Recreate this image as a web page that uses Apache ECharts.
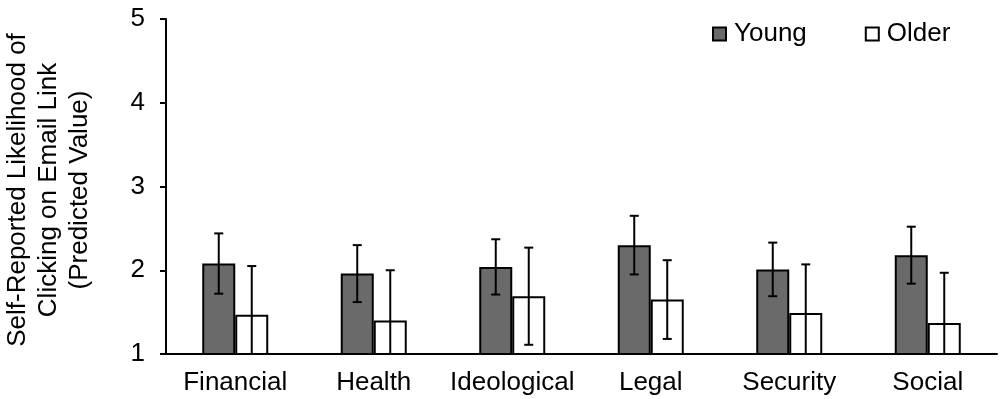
<!DOCTYPE html>
<html>
<head>
<meta charset="utf-8">
<script src="https://cdn.jsdelivr.net/npm/echarts@6/dist/echarts.min.js"></script>
<style>
  html, body { margin: 0; padding: 0; background: #fff; }
  #chart { width: 1000px; height: 399px; }
</style>
</head>
<body>
<div id="chart"></div>
<script>
// Message categories
const categories = ['Financial', 'Health', 'Ideological', 'Legal', 'Security', 'Social'];
// Predicted values per age group
const young = [2.08, 1.96, 2.04, 2.30, 2.01, 2.18];
const older = [1.47, 1.40, 1.69, 1.65, 1.49, 1.37];
// Half-widths of the error bars
const youngErr = [0.36, 0.34, 0.33, 0.35, 0.32, 0.34];
const olderErr = [0.58, 0.60, 0.58, 0.47, 0.58, 0.60];
// Value-axis ticks
const yTicks = [1, 2, 3, 4, 5];

const FONT = "'Liberation Sans', Arial, sans-serif";
const BAR_W = 33;
const Y_MIN = yTicks[0], Y_MAX = yTicks[yTicks.length - 1];

function errorSeries(name, values, errs, offset) {
  return {
    type: 'custom',
    name: name + ' error',
    data: values.map((v, i) => [i, v - errs[i], v + errs[i]]),
    z: 10,
    renderItem: function (params, api) {
      const i = api.value(0);
      const lo = Math.max(api.value(1), Y_MIN);
      const hi = Math.min(api.value(2), Y_MAX);
      const top = api.coord([i, hi]);
      const bot = api.coord([i, lo]);
      const x = top[0] + offset;
      const cap = 4.5;
      const style = { stroke: '#000', lineWidth: 2 };
      const children = [
        { type: 'line', shape: { x1: x, y1: top[1], x2: x, y2: bot[1] }, style: style },
        { type: 'line', shape: { x1: x - cap, y1: top[1], x2: x + cap, y2: top[1] }, style: style }
      ];
      if (api.value(1) >= Y_MIN) {
        children.push({ type: 'line', shape: { x1: x - cap, y1: bot[1], x2: x + cap, y2: bot[1] }, style: style });
      }
      return { type: 'group', children: children };
    }
  };
}

const chart = echarts.init(document.getElementById('chart'), null, { renderer: 'canvas' });
chart.setOption({
  animation: false,
  backgroundColor: '#fff',
  textStyle: { fontFamily: FONT, color: '#000' },
  grid: { left: 166, right: 3, top: 19, bottom: 45, containLabel: false },
  legend: {
    data: ['Young', 'Older'],
    left: 712, top: 21, padding: 0,
    itemWidth: 13, itemHeight: 13, itemGap: 58,
    icon: 'rect',
    textStyle: { fontFamily: FONT, fontSize: 26, color: '#000', padding: [0, 0, 0, 3] }
  },
  xAxis: {
    type: 'category',
    data: categories,
    axisLine: { lineStyle: { color: '#000', width: 2 } },
    axisTick: { show: false },
    axisLabel: { fontFamily: FONT, fontSize: 26, color: '#000', margin: 16, interval: 0 }
  },
  yAxis: {
    type: 'value',
    min: Y_MIN, max: Y_MAX, interval: 1,
    axisLine: { show: true, lineStyle: { color: '#000', width: 2 } },
    axisTick: { show: true, length: 6, lineStyle: { color: '#000', width: 2 } },
    splitLine: { show: false },
    axisLabel: { fontFamily: FONT, fontSize: 26, color: '#000', margin: 21 }
  },
  graphic: [{
    type: 'text',
    x: 49, y: 190,
    rotation: Math.PI / 2,
    style: {
      text: 'Self-Reported Likelihood of\nClicking on Email Link\n(Predicted Value)',
      fontFamily: FONT, fontSize: 26, lineHeight: 31,
      fill: '#000', align: 'center', verticalAlign: 'middle'
    }
  }],
  series: [
    {
      type: 'bar', name: 'Young', data: young,
      barWidth: BAR_W, barGap: '0%',
      itemStyle: { color: '#6a6a6a', borderColor: '#000', borderWidth: 2 }
    },
    {
      type: 'bar', name: 'Older', data: older,
      barWidth: BAR_W, barGap: '0%',
      itemStyle: { color: '#fff', borderColor: '#000', borderWidth: 2 }
    },
    errorSeries('Young', young, youngErr, -BAR_W / 2),
    errorSeries('Older', older, olderErr, BAR_W / 2)
  ]
});
</script>
</body>
</html>
